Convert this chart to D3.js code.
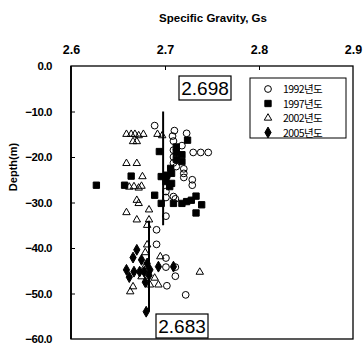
<!DOCTYPE html>
<html><head><meta charset="utf-8">
<script src="https://cdn.jsdelivr.net/npm/d3@7/dist/d3.min.js"></script>
<style>body{margin:0;background:#fff}svg{display:block}</style>
</head><body><svg id="c" width="364" height="348"></svg>
<script>
const xTicks = [2.6, 2.7, 2.8, 2.9];
const yTicks = [0, -10, -20, -30, -40, -50, -60];
const seriesNames = ["1992년도", "1997년도", "2002년도", "2005년도"];
const s1992 = [[2.689,-13.1],[2.710,-14.2],[2.708,-15.4],[2.723,-14.8],[2.709,-16.5],[2.709,-18.5],[2.709,-20],[2.709,-21.3],[2.712,-22.1],[2.730,-19],[2.738,-19],[2.746,-19],[2.720,-22.6],[2.720,-23.6],[2.720,-24.5],[2.729,-25],[2.729,-26.2],[2.709,-28.7],[2.701,-27.6],[2.701,-28.9],[2.711,-29.2],[2.701,-33],[2.691,-36],[2.691,-39.2],[2.701,-42.2],[2.701,-44.2],[2.711,-44.2],[2.711,-46.2],[2.702,-48.3],[2.722,-50.3],[2.718,-17.5]];
const s1997 = [[2.627,-26.2],[2.657,-26.2],[2.664,-24.2],[2.694,-18.8],[2.724,-16.3],[2.712,-19],[2.712,-20.5],[2.718,-19.5],[2.718,-21],[2.696,-24.3],[2.702,-24],[2.707,-23.6],[2.701,-25.4],[2.707,-25.8],[2.705,-26.5],[2.689,-28.4],[2.696,-30.2],[2.709,-30.2],[2.718,-30.2],[2.723,-29.8],[2.728,-29.5],[2.733,-28.6],[2.739,-30.5],[2.733,-32.3],[2.712,-17.8],[2.706,-22.5]];
const s2002 = [[2.659,-15],[2.664,-15],[2.668,-15],[2.672,-15.3],[2.677,-15],[2.670,-16.6],[2.666,-16.6],[2.692,-15],[2.697,-15.3],[2.659,-21.4],[2.670,-21.4],[2.676,-24.3],[2.662,-26.6],[2.667,-26.5],[2.672,-26.8],[2.675,-26.4],[2.672,-30.2],[2.659,-32.2],[2.670,-33.8],[2.683,-31.6],[2.683,-33.8],[2.681,-35],[2.681,-39.3],[2.679,-41],[2.695,-41.9],[2.679,-44],[2.675,-46.3],[2.689,-46.6],[2.737,-45.3],[2.666,-48.5],[2.684,-48.1],[2.663,-49.6],[2.693,-48.1],[2.670,-29.5]];
const s2005 = [[2.670,-40.4],[2.666,-42.1],[2.675,-42.6],[2.681,-43.4],[2.659,-44.8],[2.667,-45.2],[2.673,-45.2],[2.678,-45.2],[2.684,-44.8],[2.662,-46.4],[2.693,-44.1],[2.709,-44.1],[2.680,-54],[2.679,-47.5],[2.683,-46]];
const meanLines = [{gs:2.698, top:-10, bottom:-35, label:"2.698"},{gs:2.683, top:-34, bottom:-54, label:"2.683"}];

const svg = d3.select("#c");
const L=71, R=353, T=66, B=339;
const x = d3.scaleLinear().domain([2.6,2.9]).range([L,R]);
const y = d3.scaleLinear().domain([0,-60]).range([T,B]);
const font = "'Liberation Sans', Arial, sans-serif";

svg.append("text").attr("x",213).attr("y",22).attr("text-anchor","middle")
  .attr("font-family",font).attr("font-weight","bold").attr("font-size",11.5).text("Specific Gravity, Gs");

const xa = svg.append("g").attr("transform",`translate(0,${T})`)
  .call(d3.axisTop(x).tickValues(xTicks).tickFormat(d3.format(".1f")).tickSizeInner(-4).tickSizeOuter(0).tickPadding(12));
xa.select(".domain").remove();
xa.selectAll("text").attr("font-family",font).attr("font-weight","bold").attr("font-size",12.5).attr("fill","#000");
xa.selectAll("line").attr("stroke","#000");
xa.selectAll(".tick").filter(d=>d===2.6||d===2.9).select("line").remove();

const ya = svg.append("g").attr("transform",`translate(${L},0)`)
  .call(d3.axisLeft(y).tickValues(yTicks).tickFormat(d=>d===0?"0.0":"\u2212"+Math.abs(d).toFixed(1)).tickSizeInner(-4).tickSizeOuter(0).tickPadding(19));
ya.select(".domain").remove();
ya.selectAll("text").attr("font-family",font).attr("font-weight","bold").attr("font-size",11.5).attr("fill","#000").attr("letter-spacing","-0.5");
ya.selectAll("line").attr("stroke","#000");
ya.selectAll(".tick").filter(d=>d===0||d===-60).select("line").remove();

svg.append("text").attr("transform","translate(17,167) rotate(-90)").attr("text-anchor","middle")
  .attr("font-family",font).attr("font-weight","bold").attr("font-size",11).text("Depth(m)");

svg.append("rect").attr("x",L).attr("y",T).attr("width",R-L).attr("height",B-T)
  .attr("fill","none").attr("stroke","#000").attr("stroke-width",1.3);
svg.append("line").attr("x1",L).attr("x2",L).attr("y1",T).attr("y2",B).attr("stroke","#000").attr("stroke-width",1.8);

meanLines.forEach(m=>{
  svg.append("line").attr("x1",x(m.gs)).attr("x2",x(m.gs)).attr("y1",y(m.top)).attr("y2",y(m.bottom))
    .attr("stroke","#000").attr("stroke-width",2);
});

const sym = [d3.symbolCircle, d3.symbolSquare, d3.symbolTriangle, d3.symbolDiamond];
const sizes = [36, 40, 24, 34];
const fills = ["none","#000","none","#000"];
const allSeries = [s1992, s1997, s2002, s2005];
allSeries.forEach((s,i)=>{
  svg.append("g").selectAll("path").data(s).join("path")
    .attr("transform",d=>`translate(${x(d[0])},${y(d[1])})`)
    .attr("d",d3.symbol().type(sym[i]).size(sizes[i]))
    .attr("fill",fills[i]).attr("stroke","#000").attr("stroke-width",1);
});

const boxes = [{cx:205, cy:88, label:meanLines[0].label},{cx:182, cy:326, label:meanLines[1].label}];
boxes.forEach(b=>{
  svg.append("rect").attr("x",b.cx-26).attr("y",b.cy-12).attr("width",52).attr("height",24)
    .attr("fill","#fff").attr("stroke","#000").attr("stroke-width",1.2);
  svg.append("text").attr("x",b.cx).attr("y",b.cy+7).attr("text-anchor","middle")
    .attr("font-family",font).attr("font-size",19).text(b.label);
});

const lg = svg.append("g");
lg.append("rect").attr("x",250).attr("y",78).attr("width",96).attr("height",60)
  .attr("fill","#fff").attr("stroke","#000").attr("stroke-width",1);
seriesNames.forEach((n,i)=>{
  const yy = 89 + i*14.5;
  lg.append("path").attr("transform",`translate(268,${yy})`).attr("d",d3.symbol().type(sym[i]).size(sizes[i]))
    .attr("fill",fills[i]).attr("stroke","#000");
  lg.append("text").attr("x",283).attr("y",yy+4).attr("font-family","'Noto Sans CJK KR', sans-serif")
    .attr("font-size",10.5).attr("letter-spacing","-0.6").text(n);
});
</script></body></html>
